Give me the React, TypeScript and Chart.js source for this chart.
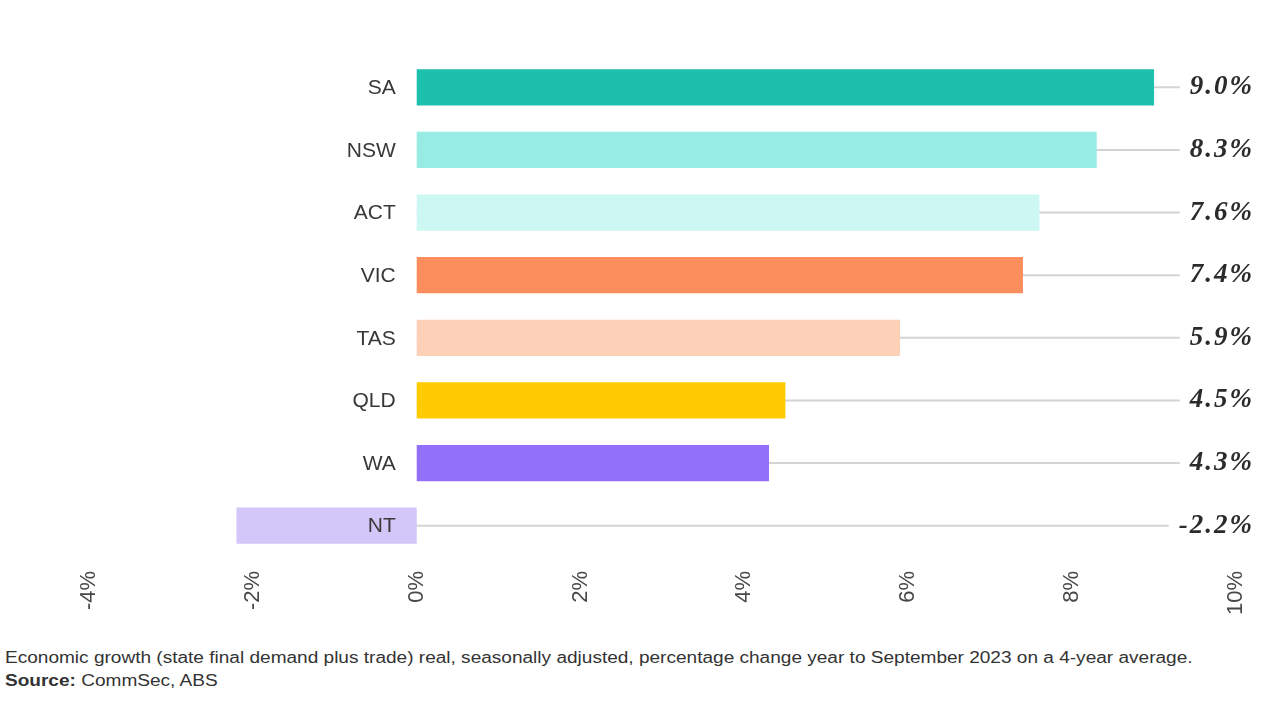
import React, { useEffect, useRef } from "react";
import { Chart, registerables } from "chart.js";

Chart.register(...registerables);

const states = ["SA", "NSW", "ACT", "VIC", "TAS", "QLD", "WA", "NT"];
const growth = [9.0, 8.3, 7.6, 7.4, 5.9, 4.5, 4.3, -2.2];
const valueLabels = ["9.0%", "8.3%", "7.6%", "7.4%", "5.9%", "4.5%", "4.3%", "-2.2%"];
const barColors = ["#1dbfad", "#97ede4", "#cdf7f2", "#fb8e5c", "#fdd0b8", "#ffcb00", "#9370fa", "#d3c6f8"];
const xTicks = [-4, -2, 0, 2, 4, 6, 8, 10];
const caption =
  "Economic growth (state final demand plus trade) real, seasonally adjusted, percentage change year to September 2023 on a 4-year average.";
const sourceText = "CommSec, ABS";

const LABEL_RIGHT = 1252;
const LABEL_FONT = "italic bold 27px 'Liberation Serif', 'DejaVu Serif', serif";
const CAT_FONT = "21px 'Liberation Sans', Arial, sans-serif";

const leaderPlugin = {
  id: "leaders",
  beforeDatasetsDraw(chart: any) {
    const ctx = chart.ctx;
    const meta = chart.getDatasetMeta(0);
    const xs = chart.scales.x;
    ctx.save();
    ctx.font = LABEL_FONT;
    (ctx as any).letterSpacing = "2px";
    ctx.strokeStyle = "#d4d4d4";
    ctx.lineWidth = 2;
    meta.data.forEach((bar: any, i: number) => {
      const v = growth[i];
      const w = ctx.measureText(valueLabels[i]).width;
      const start = xs.getPixelForValue(Math.min(0, v));
      const end = LABEL_RIGHT - w - 8;
      ctx.beginPath();
      ctx.moveTo(start, bar.y);
      ctx.lineTo(end, bar.y);
      ctx.stroke();
    });
    ctx.restore();
  },
  afterDatasetsDraw(chart: any) {
    const ctx = chart.ctx;
    const meta = chart.getDatasetMeta(0);
    const xs = chart.scales.x;
    const zero = xs.getPixelForValue(0);
    ctx.save();
    ctx.textBaseline = "middle";
    ctx.textAlign = "right";
    // category labels at the zero line
    ctx.font = CAT_FONT;
    ctx.fillStyle = "#383838";
    meta.data.forEach((bar: any, i: number) => {
      ctx.fillText(states[i], zero - 21, bar.y + 1);
    });
    // value labels
    ctx.font = LABEL_FONT;
    (ctx as any).letterSpacing = "2px";
    ctx.fillStyle = "#2b2b2b";
    meta.data.forEach((bar: any, i: number) => {
      ctx.fillText(valueLabels[i], LABEL_RIGHT + 2, bar.y);
    });
    ctx.restore();
  },
};

export default function App() {
  const ref = useRef<HTMLCanvasElement | null>(null);
  useEffect(() => {
    if (!ref.current) return;
    const chart = new Chart(ref.current, {
      type: "bar",
      data: {
        labels: states,
        datasets: [
          {
            data: growth,
            backgroundColor: barColors,
            borderWidth: 0,
            categoryPercentage: 0.58,
            barPercentage: 1,
          },
        ],
      },
      options: {
        indexAxis: "y",
        animation: false,
        responsive: false,
        layout: { padding: { left: 89, right: 44, top: 56, bottom: 0 } },
        plugins: { legend: { display: false }, tooltip: { enabled: false } },
        scales: {
          x: {
            min: -4,
            max: 10,
            afterBuildTicks(scale: any) {
              scale.ticks = xTicks.map((v) => ({ value: v }));
            },
            afterFit(scale: any) {
              scale.height = 61;
            },
            grid: { display: false },
            border: { display: false },
            ticks: {
              minRotation: 90,
              maxRotation: 90,
              padding: 6,
              color: "#484848",
              font: { family: "'Liberation Sans', Arial, sans-serif", size: 22 },
              callback: (v: any) => v + "%",
            },
          },
          y: {
            display: false,
          },
        },
      },
      plugins: [leaderPlugin],
    });
    return () => chart.destroy();
  }, []);

  return (
    <div style={{ position: "absolute", left: 0, top: 0, width: 1280, height: 720, background: "#fff" }}>
      <canvas ref={ref} width={1280} height={618} style={{ display: "block" }} />
      <div
        style={{
          position: "absolute",
          left: 5,
          top: 646,
          fontFamily: "'Liberation Sans', Arial, sans-serif",
          fontSize: 16,
          lineHeight: "23px",
          color: "#333",
          whiteSpace: "nowrap",
          transform: "scaleX(1.19)",
          transformOrigin: "left top",
        }}
      >
        <div>{caption}</div>
        <div>
          <b>Source:</b> {sourceText}
        </div>
      </div>
    </div>
  );
}
